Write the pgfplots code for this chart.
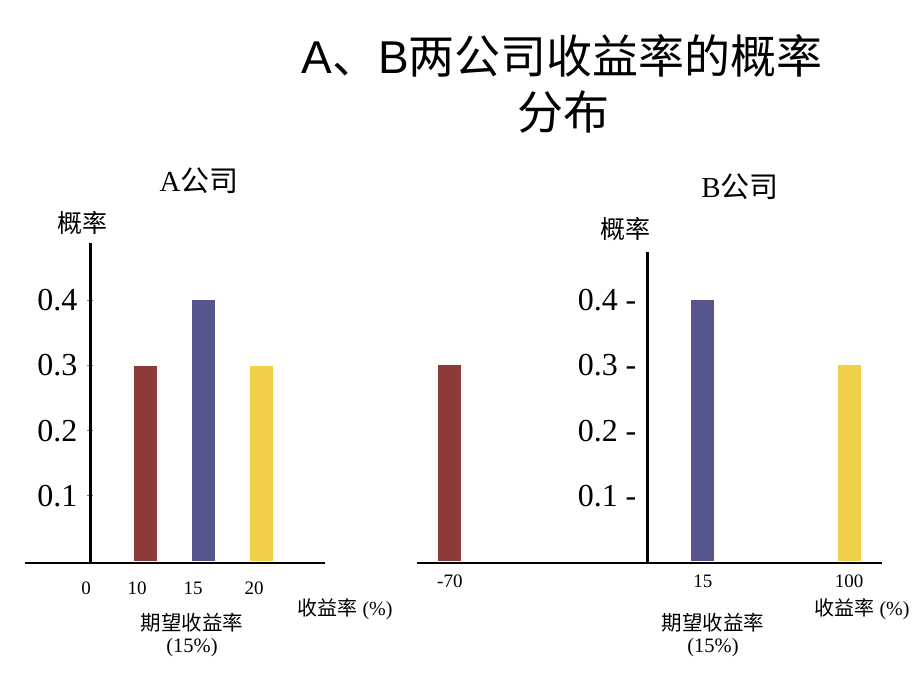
\documentclass[border=0pt]{standalone}
\usepackage{fontspec}
\setmainfont{Liberation Serif}
\setsansfont{Liberation Sans}
\newfontfamily\cjk{Noto Sans CJK SC}
\usepackage{pgfplots}
\pgfplotsset{compat=1.18}

\definecolor{barRed}{RGB}{140,58,58}
\definecolor{barBlue}{RGB}{86,86,140}
\definecolor{barYellow}{RGB}{240,208,72}

\newcommand{\fs}[1]{\fontsize{#1bp}{1.2\dimexpr #1bp\relax}\selectfont}

\pgfplotsset{
  slide/.style={
    scale only axis,
    anchor=south west,
    axis x line=bottom,
    axis y line=center,
    ytick={0.1,0.2,0.3,0.4},
    x tick style={draw=none},
    /pgf/number format/assume math mode=true,
    ticklabel style={font=\rmfamily},
    clip=false,
  },
}

\begin{document}
\begin{tikzpicture}[x=1bp,y=1bp]
\useasboundingbox (0,0) rectangle (920,690);

% title
\node[font=\fs{46}] at (562,634) {{\sffamily A}{\cjk 、}{\sffamily B}{\cjk 两公司收益率的概率}};
\node[font=\fs{46}] at (563,578) {\cjk 分布};

% ---------------- A company ----------------
\begin{axis}[slide,
  at={(25bp,127bp)}, width=300bp, height=320bp,
  xmin=-1.14, xmax=4.12, ymin=-0.003, ymax=0.488,
  x axis line style={-, line width=1.4bp},
  y axis line style={-, line width=3bp},
  xtick={-0.07,0.825,1.807,2.877},
  xticklabels={0,10,15,20},
  xticklabel style={font=\fs{19}, yshift=-12bp},
  yticklabels={0.1,0.2,0.3,0.4},
  yticklabel style={font=\fs{32}, xshift=-6bp},
  y tick style={line width=1bp},
  major tick length=6bp,
  tick align=center,
]
\addplot[ybar, bar width=23bp, bar shift=0pt, fill=barRed, draw=none] coordinates {(0.965,0.3)};
\addplot[ybar, bar width=23bp, bar shift=0pt, fill=barBlue, draw=none] coordinates {(1.982,0.4)};
\addplot[ybar, bar width=23bp, bar shift=0pt, fill=barYellow, draw=none] coordinates {(3.0,0.3)};
\end{axis}

\node[font=\fs{29}] at (199,509) {A{\cjk 公司}};
\node[font=\fs{25}] at (82,467) {\cjk 概率};
\node[font=\fs{20}] at (345,81) {{\cjk 收益率} (\%)};
\node[font=\fs{20.5}] at (192,67) {\cjk 期望收益率};
\node[font=\fs{20.5}] at (192,42) {(15\%)};

% ---------------- B company ----------------
\begin{axis}[slide,
  at={(417bp,127bp)}, width=465bp, height=311bp,
  xmin=-4.05, xmax=4.105, ymin=-0.003, ymax=0.474,
  x axis line style={-, line width=2bp},
  y axis line style={-, line width=3bp},
  xtick={-3.474,0.965,3.526},
  xticklabels={-70,15,100},
  xticklabel style={font=\fs{19}, yshift=-8bp},
  yticklabels={0.1 -,0.2 -,0.3 -,0.4 -},
  yticklabel style={font=\fs{32}, xshift=-8bp},
  y tick style={draw=none},
  major tick length=0bp,
]
\addplot[ybar, bar width=23bp, bar shift=0pt, fill=barRed, draw=none] coordinates {(-3.474,0.3)};
\addplot[ybar, bar width=23bp, bar shift=0pt, fill=barBlue, draw=none] coordinates {(0.965,0.4)};
\addplot[ybar, bar width=23bp, bar shift=0pt, fill=barYellow, draw=none] coordinates {(3.526,0.3)};
\end{axis}

\node[font=\fs{29}] at (740,503) {B{\cjk 公司}};
\node[font=\fs{25}] at (625,461) {\cjk 概率};
\node[font=\fs{20}] at (862,81) {{\cjk 收益率} (\%)};
\node[font=\fs{20.5}] at (713,67) {\cjk 期望收益率};
\node[font=\fs{20.5}] at (713,42) {(15\%)};
\end{tikzpicture}
\end{document}
